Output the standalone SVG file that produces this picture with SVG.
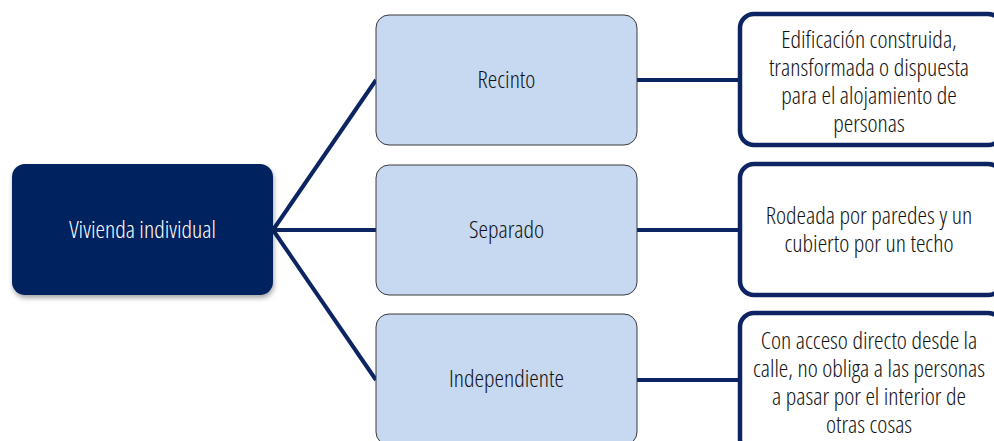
<svg xmlns="http://www.w3.org/2000/svg" width="994" height="441" viewBox="0 0 994 441">
<style>
text{font-family:"Open Sans","Liberation Sans",sans-serif;font-stretch:75%;font-weight:350;font-size:24px;text-anchor:middle;fill:#111111}
.main{fill:#02205e}
.main-t{fill:#ffffff}
.mid{fill:#c6d9f0;stroke:#3a3a3a;stroke-width:1}
.desc{fill:#ffffff;stroke:#0c2462;stroke-width:4.5}
.conn{stroke:#0c2462;stroke-width:4;fill:none}
</style>
<defs>
<filter id="sh" x="-10%" y="-10%" width="130%" height="140%">
<feDropShadow dx="1" dy="3" stdDeviation="2.5" flood-color="#000" flood-opacity="0.35"/>
</filter>
</defs>
<rect width="994" height="441" fill="#ffffff"/>
<g id="connectors">
<line class="conn" x1="273" y1="230" x2="376" y2="80"/>
<line class="conn" x1="273" y1="230" x2="376" y2="230"/>
<line class="conn" x1="273" y1="230" x2="376" y2="380"/>
<line class="conn" x1="637" y1="80" x2="740" y2="80"/>
<line class="conn" x1="637" y1="230" x2="740" y2="230"/>
<line class="conn" x1="637" y1="380" x2="740" y2="380"/>
</g>
<g id="vivienda">
<rect class="main" x="12" y="164" width="261" height="131" rx="13" filter="url(#sh)"/>
<text class="main-t" x="142.5" y="238">Vivienda individual</text>
</g>
<g id="recinto">
<rect class="mid" x="376" y="15" width="261" height="130" rx="13"/>
<text x="506.5" y="88">Recinto</text>
</g>
<g id="separado">
<rect class="mid" x="376" y="165" width="261" height="130" rx="13"/>
<text x="506.5" y="238">Separado</text>
</g>
<g id="independiente">
<rect class="mid" x="376" y="314" width="261" height="131" rx="13"/>
<text x="506.5" y="387">Independiente</text>
</g>
<g id="desc-recinto">
<rect class="desc" x="740" y="14" width="262" height="131" rx="14"/>
<text x="869" y="48">Edificación construida,</text>
<text x="869" y="76">transformada o dispuesta</text>
<text x="869" y="104">para el alojamiento de</text>
<text x="869" y="132">personas</text>
</g>
<g id="desc-separado">
<rect class="desc" x="740" y="164" width="262" height="131" rx="14"/>
<text x="869" y="224">Rodeada por paredes y un</text>
<text x="869" y="252">cubierto por un techo</text>
</g>
<g id="desc-independiente">
<rect class="desc" x="740" y="313" width="262" height="140" rx="14"/>
<text x="869" y="349">Con acceso directo desde la</text>
<text x="869" y="377">calle, no obliga a las personas</text>
<text x="869" y="405">a pasar por el interior de</text>
<text x="869" y="433">otras cosas</text>
</g>
</svg>
